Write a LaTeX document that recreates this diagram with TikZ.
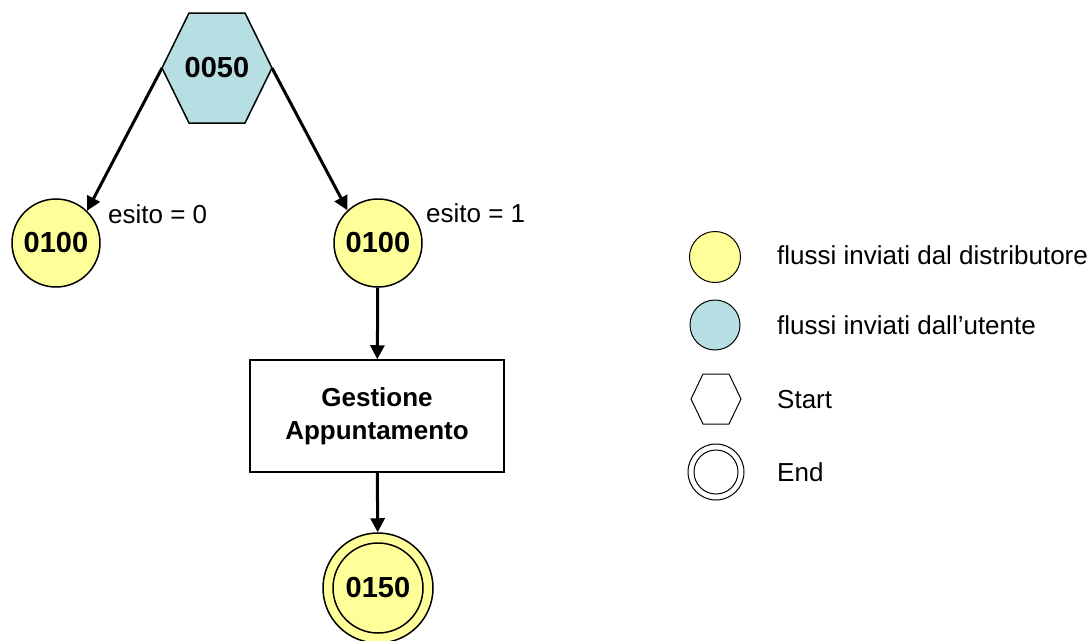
\documentclass[tikz,border=0pt]{standalone}
\usepackage{fontspec}
\setmainfont{Liberation Sans}
\usetikzlibrary{arrows.meta,positioning}
\definecolor{flussoyellow}{RGB}{255,255,153}
\definecolor{flussoblue}{RGB}{183,222,226}

\tikzset{
  numtext/.style={font=\fontsize{29}{34}\selectfont\bfseries},
  distr/.style={circle, draw, line width=1.5pt, fill=flussoyellow, minimum size=88pt, inner sep=0pt, numtext},
  flow/.style={-{Triangle[length=14pt,width=14pt]}, line width=3pt},
  esito/.style={anchor=west, inner sep=0pt, font=\fontsize{26}{31}\selectfont},
  legtext/.style={anchor=west, inner sep=0pt, font=\fontsize{26}{31}\selectfont},
  legshape/.style={draw, line width=1pt, inner sep=0pt},
}

\begin{document}
\begin{tikzpicture}[x=1pt,y=-1pt]
\useasboundingbox (0,0) rectangle (1089,640);

% start (hexagon)
\coordinate (hex) at (217,68);
\filldraw[fill=flussoblue, line width=1.5pt] (hex) ++(-55,0) coordinate (hexW) -- ++(27,-55) -- ++(56,0) -- ++(27,55) coordinate (hexE) -- ++(-27,55) -- ++(-56,0) -- cycle;
\node[numtext] (n0050) at (hex) {0050};

% flussi
\node[distr] (n0100a) at (56,243) {0100};
\node[distr] (n0100b) at (378,243) {0100};
\node[draw, line width=1.5pt, minimum width=254pt, minimum height=112pt, align=center,
      font=\fontsize{26}{33}\selectfont\bfseries] (gestione) at (377,416) {Gestione\\Appuntamento};
\node[distr, minimum size=110pt] (n0150) at (378,588) {};
\node[circle, draw, line width=1.5pt, minimum size=90pt, inner sep=0pt, numtext] (n0150in) at (n0150) {0150};

\draw[flow] (hexW) -- (n0100a.46);
\draw[flow] (hexE) -- (n0100b.133);
\draw[flow] (n0100b) -- (gestione);
\draw[flow] (gestione) -- (n0150);

\node[esito] (esito0) at (108,214) {esito = 0};
\node[esito] (esito1) at (426,213) {esito = 1};

% legenda
\node[legshape, circle, fill=flussoyellow, minimum size=51pt] (legdistr) at (715,257) {};
\node[legshape, circle, fill=flussoblue, minimum size=50pt] (legutente) at (715,325) {};
\coordinate (leghex) at (716,399);
\draw[line width=1pt] (leghex) ++(-25,0) -- ++(12,-25) -- ++(26,0) -- ++(12,25) -- ++(-12,25) -- ++(-26,0) -- cycle;
\node[legshape, circle, minimum size=56pt] (legend) at (716,472) {};
\node[legshape, circle, minimum size=44pt] (legendin) at (legend) {};

\node[legtext] (txtdistr) at (777,255) {flussi inviati dal distributore};
\node[legtext] (txtutente) at (777,325) {flussi inviati dall’utente};
\node[legtext] (txtstart) at (777,400) {Start};
\node[legtext] (txtend) at (777,472) {End};
\end{tikzpicture}
\end{document}
